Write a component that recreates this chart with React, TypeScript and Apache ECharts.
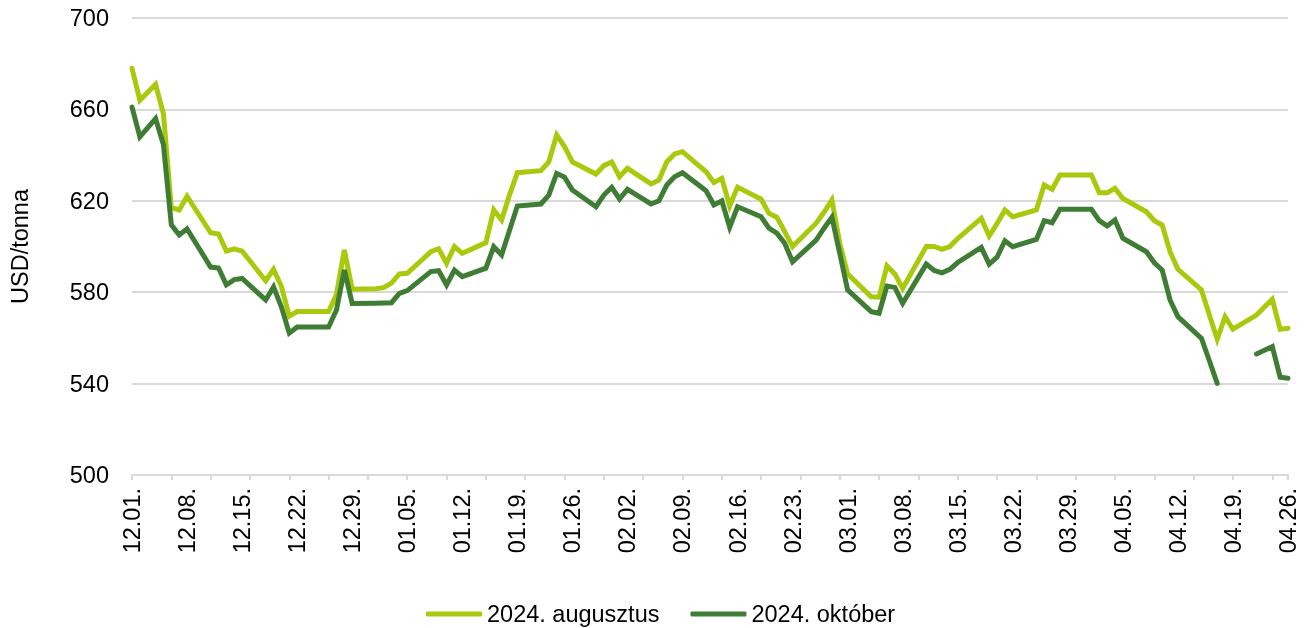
import React, { useEffect, useRef } from "react";
import * as echarts from "echarts";

const dates = [
  "12.01.", "12.02.", "12.04.", "12.05.", "12.06.", "12.07.", "12.08.",
  "12.11.", "12.12.", "12.13.", "12.14.", "12.15.",
  "12.18.", "12.19.", "12.20.", "12.21.", "12.22.",
  "12.25.", "12.26.", "12.27.", "12.28.", "12.29.",
  "01.01.", "01.02.", "01.03.", "01.04.", "01.05.",
  "01.08.", "01.09.", "01.10.", "01.11.", "01.12.",
  "01.15.", "01.16.", "01.17.", "01.18.", "01.19.",
  "01.22.", "01.23.", "01.24.", "01.25.", "01.26.",
  "01.29.", "01.30.", "01.31.", "02.01.", "02.02.",
  "02.05.", "02.06.", "02.07.", "02.08.", "02.09.",
  "02.12.", "02.13.", "02.14.", "02.15.", "02.16.",
  "02.19.", "02.20.", "02.21.", "02.22.", "02.23.",
  "02.26.", "02.27.", "02.28.", "02.29.", "03.01.",
  "03.04.", "03.05.", "03.06.", "03.07.", "03.08.",
  "03.11.", "03.12.", "03.13.", "03.14.", "03.15.",
  "03.18.", "03.19.", "03.20.", "03.21.", "03.22.",
  "03.25.", "03.26.", "03.27.", "03.28.", "03.29.",
  "04.01.", "04.02.", "04.03.", "04.04.", "04.05.",
  "04.08.", "04.09.", "04.10.", "04.11.", "04.12.",
  "04.15.", "04.16.", "04.17.", "04.18.", "04.19.",
  "04.22.", "04.23.", "04.24.", "04.25.", "04.26.",
];

const augusztus: (number | null)[] = [
  678, 664, 671, 658, 617, 616, 622,
  606, 605.5, 598, 599, 598,
  585, 590, 582.5, 569.5, 571.5,
  571.5, 571.5, 579, 598.5, 581.3,
  581.5, 582, 584, 588, 588.3,
  597.7, 599, 592.6, 600, 597,
  601.7, 616, 611.6, 622.5, 632.3,
  633.2, 637, 648.8, 643.7, 637,
  631.7, 635.4, 637, 630.5, 634.2,
  627.4, 629, 637, 640.5, 641.5,
  632.7, 628, 629.8, 617.7, 626,
  620.7, 614.5, 612.8, 606.5, 600,
  610.2, 615, 620.4, 601.4, 588,
  578, 577.8, 591.5, 588, 581.7,
  600, 600, 598.8, 600, 603.5,
  612.3, 604.6, 610, 616, 613,
  616, 626.9, 625, 631.3, 631.3,
  631.3, 623.5, 623.5, 625.5, 621,
  615.2, 611.3, 609.4, 597.7, 590,
  581, 570, 559.4, 569.3, 563.8,
  570, 573.5, 576.9, 563.8, 564.2,
];

const oktober: (number | null)[] = [
  661, 648, 656, 644.5, 609.5, 605, 607.7,
  591, 590.6, 583.2, 585.5, 586,
  576.6, 582.3, 573.5, 562.1, 564.8,
  564.8, 564.8, 572.2, 589.7, 575.1,
  575.2, 575.3, 575.4, 579.5, 580.7,
  589, 589.4, 583.2, 589.7, 586.8,
  590.5, 599.9, 596.3, 607, 617.7,
  618.6, 622.5, 632, 630.3, 624.7,
  617.4, 622.5, 625.9, 620.8, 625,
  618.6, 620, 626.9, 630.5, 632.3,
  624.4, 618.2, 620, 608.4, 617.4,
  613, 608, 605.8, 601.4, 593.3,
  602.8, 608, 612.8, 597, 581,
  571.5, 570.8, 582.7, 582.1, 575.1,
  592.3, 589.5, 588.5, 590, 593,
  599.6, 592.3, 595.3, 602.5, 599.9,
  603.1, 611.3, 610.4, 616.3, 616.3,
  616.3, 611.3, 609, 611.6, 603.6,
  597.7, 592.9, 589.7, 576.6, 569.3,
  559.8, 550, 540.1, null, null,
  553, 554.6, 556.2, 542.8, 542.3,
];

const tickLabels = [
  "12.01.", "12.08.", "12.15.", "12.22.", "12.29.", "01.05.", "01.12.",
  "01.19.", "01.26.", "02.02.", "02.09.", "02.16.", "02.23.", "03.01.",
  "03.08.", "03.15.", "03.22.", "03.29.", "04.05.", "04.12.", "04.19.",
  "04.26.",
];

const seriesNames = ["2024. augusztus", "2024. október"];
const yTicks = { min: 500, max: 700, step: 40 };

const dayIndex = (s: string) => {
  const m = parseInt(s.slice(0, 2), 10);
  const d = parseInt(s.slice(3, 5), 10);
  const y = m === 12 ? 2023 : 2024;
  return Math.round((Date.UTC(y, m - 1, d) - Date.UTC(2023, 11, 1)) / 86400000);
};

const FONT = "'Liberation Sans', Arial, sans-serif";
const LIGHT = "#A9CA0C";
const DARK = "#3F7D35";
const GRID = "#D9D9D9";

export default function App() {
  const ref = useRef<HTMLDivElement>(null);
  useEffect(() => {
    if (!ref.current) return;
    const chart = echarts.init(ref.current, undefined, { renderer: "svg" });
    const lastDay = dayIndex(tickLabels[tickLabels.length - 1]);
    const toPairs = (vals: (number | null)[]) =>
      dates.map((d, i) => [dayIndex(d), vals[i] === null ? null : vals[i]]);
    chart.setOption({
      animation: false,
      textStyle: { fontFamily: FONT },
      grid: { left: 131, right: 19, top: 18, bottom: 153 },
      legend: {
        left: 421,
        top: 597,
        icon: "roundRect",
        itemWidth: 56,
        itemHeight: 5,
        itemGap: 31,
        textStyle: { fontSize: 23.5, color: "#000", fontFamily: FONT },
        data: seriesNames,
      },
      xAxis: [
        {
          type: "value",
          min: 0,
          max: lastDay,
          interval: 7,
          axisLine: { show: true, lineStyle: { color: GRID, width: 2 } },
          axisTick: { show: false },
          splitLine: { show: false },
          axisLabel: {
            rotate: 90,
            margin: 13,
            fontSize: 23.5,
            color: "#000",
            fontFamily: FONT,
            formatter: (v: number) => tickLabels[Math.round(v / 7)] ?? "",
          },
        },
        {
          type: "value",
          position: "bottom",
          min: 0,
          max: lastDay,
          interval: 5,
          axisLine: { show: false },
          axisTick: { show: true, length: 5, lineStyle: { color: GRID, width: 2 } },
          axisLabel: { show: false },
          splitLine: { show: false },
        },
      ],
      yAxis: {
        type: "value",
        min: yTicks.min,
        max: yTicks.max,
        interval: yTicks.step,
        name: "USD/tonna",
        nameLocation: "middle",
        nameGap: 100,
        nameTextStyle: { fontSize: 23.5, color: "#000", fontFamily: FONT },
        axisLine: { show: false },
        axisTick: { show: false },
        axisLabel: { margin: 23, fontSize: 23.5, color: "#000", fontFamily: FONT },
        splitLine: { lineStyle: { color: GRID, width: 2 } },
      },
      series: [
        {
          name: seriesNames[0],
          type: "line",
          xAxisIndex: 0,
          data: toPairs(augusztus),
          showSymbol: false,
          symbol: "none",
          connectNulls: false,
          color: LIGHT,
          lineStyle: { width: 5, color: LIGHT, cap: "round", join: "miter" },
        },
        {
          name: seriesNames[1],
          type: "line",
          xAxisIndex: 0,
          data: toPairs(oktober),
          showSymbol: false,
          symbol: "none",
          connectNulls: false,
          color: DARK,
          lineStyle: { width: 5, color: DARK, cap: "round", join: "miter" },
        },
      ],
    });
    return () => chart.dispose();
  }, []);
  return (
    <div
      ref={ref}
      style={{ position: "fixed", left: 0, top: 0, width: 1307, height: 628 }}
    />
  );
}
